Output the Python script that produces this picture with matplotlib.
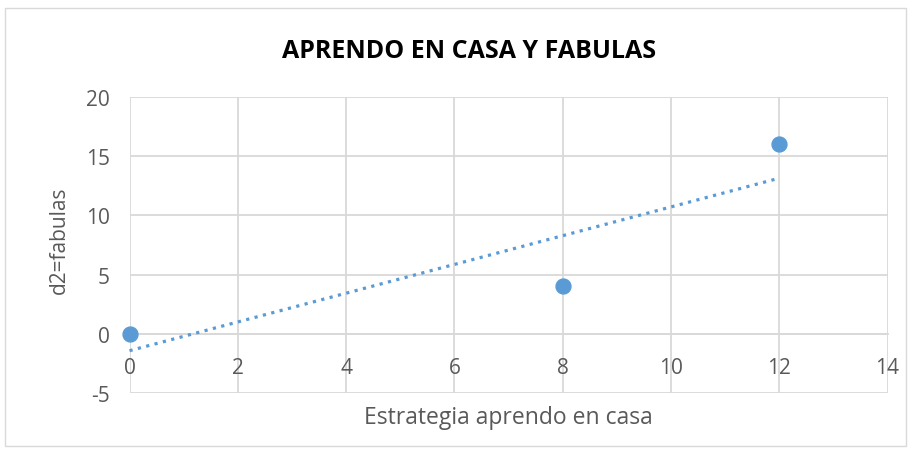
import numpy as np
import matplotlib
matplotlib.use("Agg")
import matplotlib.pyplot as plt
from matplotlib.patches import Rectangle

plt.rcParams['font.family'] = ['Open Sans', 'DejaVu Sans']
plt.rcParams['axes.unicode_minus'] = False

# Data
x_vals = [0, 8, 12]
y_vals = [0, 4, 16]
x_ticks = [0, 2, 4, 6, 8, 10, 12, 14]
y_ticks = [-5, 0, 5, 10, 15, 20]
title = "APRENDO EN CASA Y FABULAS"
x_label = "Estrategia aprendo en casa"
y_label = "d2=fabulas"

W, H = 915, 456
fig = plt.figure(figsize=(W / 100, H / 100), dpi=100)
fig.patch.set_facecolor('white')
fig.patches.append(Rectangle((5 / W, 1 - 447 / H), 901 / W, 438 / H,
                             transform=fig.transFigure, fill=False,
                             edgecolor='#d9d9d9', linewidth=1))

left, right, top, bottom = 129.5, 887.5, 98, 394
ax = fig.add_axes([left / W, 1 - bottom / H, (right - left) / W, (bottom - top) / H])

blue = '#5b9bd5'
grid = '#d9d9d9'
text_c = '#595959'

ax.set_xlim(0, 14)
ax.set_ylim(-5, 20)
ax.set_xticks(x_ticks)
ax.set_yticks(y_ticks)
ax.grid(True, color=grid, linewidth=1.3)
ax.set_axisbelow(True)
for s in ['top', 'right', 'left']:
    ax.spines[s].set_visible(False)
ax.spines['bottom'].set_position(('data', 0))
ax.spines['bottom'].set_color(grid)
ax.spines['bottom'].set_linewidth(1.3)
ax.tick_params(length=0, labelsize=15, colors=text_c)
ax.tick_params(axis='x', pad=17)
ax.tick_params(axis='y', pad=14)

# trendline (linear least squares)
m, b = np.polyfit(x_vals, y_vals, 1)
xt = np.array([min(x_vals), max(x_vals)])
ax.plot(xt, m * xt + b, linestyle=(0, (1, 1.7)), color=blue, linewidth=2.3,
        clip_on=False, zorder=3)

ax.scatter(x_vals, y_vals, s=115, color=blue, zorder=4, clip_on=False)

fig.text(469 / W, 1 - 51 / H, title, ha='center', va='center',
         fontsize=18, fontweight='bold', color='black')
fig.text(508 / W, 1 - 418 / H, x_label, ha='center', va='center',
         fontsize=16.5, color=text_c)
fig.text(59 / W, 1 - 240 / H, y_label, ha='center', va='center',
         fontsize=15, color=text_c, rotation=90)

fig.savefig('out.png', dpi=100, facecolor='white')
